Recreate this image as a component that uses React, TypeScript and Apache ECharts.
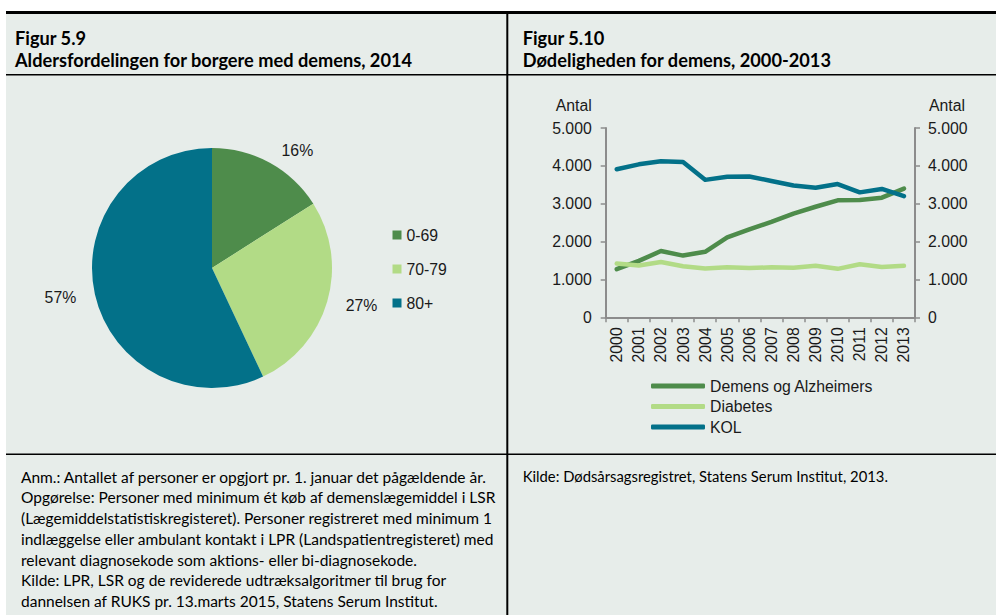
import React, { useEffect, useRef } from "react";
import * as echarts from "echarts";

const ageGroups = ["0-69", "70-79", "80+"];
const agePct = [16, 27, 57];
const ageColors = ["#4E8C4B", "#B2DB86", "#037189"];

const years = ["2000", "2001", "2002", "2003", "2004", "2005", "2006", "2007", "2008", "2009", "2010", "2011", "2012", "2013"];
const seriesNames = ["Demens og Alzheimers", "Diabetes", "KOL"];
const demens = [1270, 1490, 1750, 1630, 1730, 2110, 2320, 2520, 2740, 2920, 3090, 3100, 3160, 3400];
const diabetes = [1420, 1370, 1460, 1350, 1290, 1320, 1300, 1320, 1310, 1360, 1280, 1400, 1330, 1360];
const kol = [3910, 4040, 4120, 4100, 3630, 3710, 3720, 3600, 3480, 3420, 3520, 3300, 3390, 3200];
const lineColors = ["#4E8C4B", "#B2DB86", "#037189"];

const titleLeft = ["Figur 5.9", "Aldersfordelingen for borgere med demens, 2014"];
const titleRight = ["Figur 5.10", "Dødeligheden for demens, 2000-2013"];
const notesLeft = [
  "Anm.: Antallet af personer er opgjort pr. 1. januar det pågældende år.",
  "Opgørelse: Personer med minimum ét køb af demenslægemiddel i LSR",
  "(Lægemiddelstatistiskregisteret). Personer registreret med minimum 1",
  "indlæggelse eller ambulant kontakt i LPR (Landspatientregisteret) med",
  "relevant diagnosekode som aktions- eller bi-diagnosekode.",
  "Kilde: LPR, LSR og de reviderede udtræksalgoritmer til brug for",
  "dannelsen af RUKS pr. 13.marts 2015, Statens Serum Institut.",
];
const notesRight = ["Kilde: Dødsårsagsregistret, Statens Serum Institut, 2013."];

const fmt = (v: number) =>
  v >= 1000 ? `${Math.floor(v / 1000)}.${String(v % 1000).padStart(3, "0")}` : String(v);

const ARIAL = "Liberation Sans, Arial, sans-serif";
const CALIBRI = "Lato, sans-serif";
const TXT = "#1a1a1a";
const FS = 15.8;

export default function App() {
  const ref = useRef<HTMLDivElement>(null);
  useEffect(() => {
    if (!ref.current) return;
    const chart = echarts.init(ref.current, null, { renderer: "svg" });

    const graphics: any[] = [
      { type: "rect", shape: { x: 0, y: 0, width: 996, height: 11 }, style: { fill: "#ffffff" }, silent: true },
      { type: "rect", shape: { x: 0, y: 0, width: 6, height: 615 }, style: { fill: "#ffffff" }, silent: true },
      { type: "rect", shape: { x: 6, y: 11, width: 990, height: 3 }, style: { fill: "#000000" }, silent: true },
      { type: "rect", shape: { x: 6, y: 74, width: 990, height: 1.6 }, style: { fill: "#000000" }, silent: true },
      { type: "rect", shape: { x: 6, y: 453.5, width: 990, height: 1.6 }, style: { fill: "#000000" }, silent: true },
      { type: "rect", shape: { x: 506.3, y: 11, width: 2, height: 604 }, style: { fill: "#000000" }, silent: true },
    ];
    const addText = (t: string, x: number, y: number, bold: boolean, size: number, lh: number) =>
      graphics.push({
        type: "text",
        x,
        y,
        silent: true,
        style: {
          text: t,
          fill: "#000000",
          font: `${bold ? "bold " : ""}${size}px ${CALIBRI}`,
          lineHeight: lh,
          textAlign: "left",
          textVerticalAlign: "middle",
        },
      });
    addText(titleLeft[0], 15, 38, true, 18.2, 21);
    addText(titleLeft[1], 15, 60, true, 18.2, 21);
    addText(titleRight[0], 522.7, 38, true, 18.2, 21);
    addText(titleRight[1], 522.7, 60, true, 18.2, 21);
    notesLeft.forEach((t, i) => addText(t, 21, 476.7 + i * 20.7, false, 15.5, 18.5));
    notesRight.forEach((t, i) => addText(t, 522.7, 475.5 + i * 20.7, false, 14.8, 18.5));

    const labelFont = { color: TXT, fontSize: FS, fontFamily: ARIAL };
    const yAxisCommon = {
      type: "value",
      min: 0,
      max: 5000,
      interval: 1000,
      splitLine: { show: false },
      axisLine: { show: true, lineStyle: { color: "#8C8C8C", width: 2 } },
      axisTick: { show: true, length: 5, lineStyle: { color: "#8C8C8C", width: 1.5 } },
      axisLabel: { ...labelFont, formatter: (v: number) => fmt(v) },
      name: "Antal",
      nameLocation: "end",
      nameGap: 15,
    };

    chart.setOption({
      animation: false,
      backgroundColor: "#E7EDEA",
      textStyle: { fontFamily: ARIAL },
      graphic: { elements: graphics },
      legend: [
        {
          data: ageGroups,
          orient: "vertical",
          left: 392.5,
          top: 227,
          padding: 0,
          itemWidth: 9,
          itemHeight: 9,
          itemGap: 18,
          icon: "rect",
          textStyle: { ...labelFont, lineHeight: 16 },
          selectedMode: false,
        },
        {
          data: seriesNames,
          orient: "vertical",
          left: 651,
          top: 378,
          padding: 0,
          itemWidth: 54,
          itemHeight: 5,
          itemGap: 4.5,
          icon: "roundRect",
          textStyle: { ...labelFont, lineHeight: 16 },
          selectedMode: false,
        },
      ],
      grid: { left: 605.7, right: 81, top: 128, bottom: 297.7, containLabel: false },
      xAxis: {
        type: "category",
        data: years,
        boundaryGap: true,
        axisLine: { show: true, lineStyle: { color: "#8C8C8C", width: 2 } },
        axisTick: { show: true, length: 5, alignWithLabel: false, lineStyle: { color: "#8C8C8C", width: 1.5 } },
        axisLabel: { ...labelFont, rotate: 90, margin: 10, interval: 0 },
      },
      yAxis: [
        {
          ...yAxisCommon,
          position: "left",
          axisLabel: { ...yAxisCommon.axisLabel, margin: 14 },
          nameTextStyle: { ...labelFont, align: "right", padding: [0, 14, 0, 0] },
        },
        {
          ...yAxisCommon,
          position: "right",
          axisLabel: { ...yAxisCommon.axisLabel, margin: 13 },
          nameTextStyle: { ...labelFont, align: "left", padding: [0, 0, 0, 14] },
        },
      ],
      series: [
        {
          type: "pie",
          center: [212, 268],
          radius: 120,
          startAngle: 90,
          clockwise: true,
          data: ageGroups.map((n, i) => ({ name: n, value: agePct[i], itemStyle: { color: ageColors[i] } })),
          label: { show: true, position: "outside", formatter: "{c}%", ...labelFont },
          labelLine: { show: false, length: 14, length2: 0 },
          itemStyle: { borderWidth: 0 },
          emphasis: { disabled: true },
        },
        ...[demens, diabetes, kol].map((d, i) => ({
          type: "line",
          name: seriesNames[i],
          data: d,
          xAxisIndex: 0,
          yAxisIndex: 0,
          symbol: "none",
          color: lineColors[i],
          lineStyle: { width: 4.5, color: lineColors[i], cap: "round", join: "round" },
          emphasis: { disabled: true },
        })),
      ],
    });
    return () => chart.dispose();
  }, []);
  return <div ref={ref} style={{ position: "fixed", left: 0, top: 0, width: 996, height: 615 }} />;
}
